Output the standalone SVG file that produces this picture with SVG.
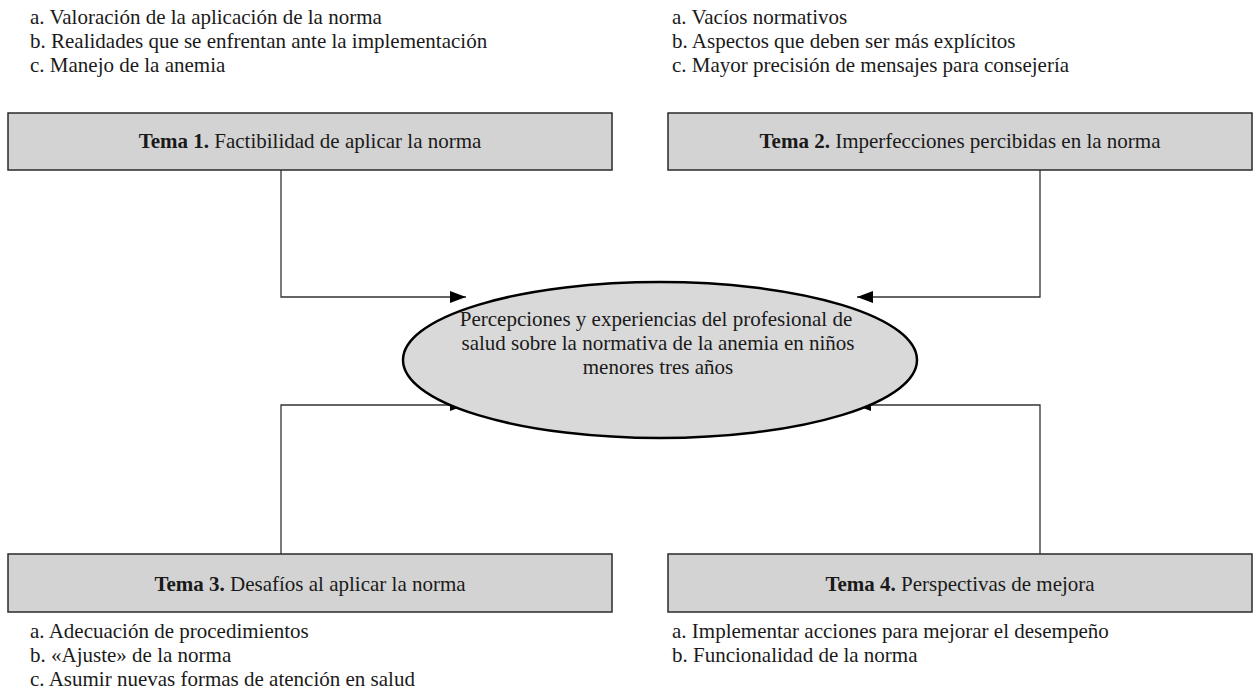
<svg xmlns="http://www.w3.org/2000/svg" width="1260" height="690" viewBox="0 0 1260 690">
<style>
text{font-family:"Liberation Serif","DejaVu Serif",serif;font-size:21px;fill:#1a1a1a}
.box{fill:#d3d3d3;stroke:#2a2a2a;stroke-width:1.5}
.c{text-anchor:middle}
.conn{fill:none;stroke:#333;stroke-width:1.3}
</style>
<defs>
<marker id="ah" markerWidth="16" markerHeight="12" refX="16" refY="6" orient="auto" markerUnits="userSpaceOnUse">
<path d="M0,0 L16,6 L0,12 Z" fill="#000"/>
</marker>
</defs>
<rect width="1260" height="690" fill="#fff"/>
<g id="connectors">
<path class="conn" d="M281,170 V297 H466" marker-end="url(#ah)"/>
<path class="conn" d="M1040,170 V297 H857" marker-end="url(#ah)"/>
<path class="conn" d="M281,554 V405 H466" marker-end="url(#ah)"/>
<path class="conn" d="M1040,554 V405 H855" marker-end="url(#ah)"/>
</g>
<g id="list1">
<text x="30" y="24">a. Valoración de la aplicación de la norma</text>
<text x="30" y="48">b. Realidades que se enfrentan ante la implementación</text>
<text x="30" y="72">c. Manejo de la anemia</text>
</g>
<g id="list2">
<text x="672" y="24">a. Vacíos normativos</text>
<text x="672" y="48">b. Aspectos que deben ser más explícitos</text>
<text x="672" y="72">c. Mayor precisión de mensajes para consejería</text>
</g>
<g id="tema1">
<rect class="box" x="8" y="113" width="604" height="57"/>
<text class="c" x="310" y="148"><tspan font-weight="bold">Tema 1.</tspan> Factibilidad de aplicar la norma</text>
</g>
<g id="tema2">
<rect class="box" x="668" y="113" width="584" height="57"/>
<text class="c" x="960" y="148"><tspan font-weight="bold">Tema 2.</tspan> Imperfecciones percibidas en la norma</text>
</g>
<g id="center">
<ellipse cx="660" cy="360" rx="257" ry="78" fill="#d9d9d9" stroke="#000" stroke-width="2.5"/>
<text class="c" x="656" y="326">Percepciones y experiencias del profesional de</text>
<text class="c" x="658" y="350">salud sobre la normativa de la anemia en niños</text>
<text class="c" x="658" y="374">menores tres años</text>
</g>
<g id="tema3">
<rect class="box" x="8" y="554" width="604" height="58"/>
<text class="c" x="310" y="591"><tspan font-weight="bold">Tema 3.</tspan> Desafíos al aplicar la norma</text>
</g>
<g id="tema4">
<rect class="box" x="668" y="554" width="584" height="58"/>
<text class="c" x="960" y="591"><tspan font-weight="bold">Tema 4.</tspan> Perspectivas de mejora</text>
</g>
<g id="list3">
<text x="30" y="638">a. Adecuación de procedimientos</text>
<text x="30" y="662">b. «Ajuste» de la norma</text>
<text x="30" y="686">c. Asumir nuevas formas de atención en salud</text>
</g>
<g id="list4">
<text x="672" y="638">a. Implementar acciones para mejorar el desempeño</text>
<text x="672" y="662">b. Funcionalidad de la norma</text>
</g>
</svg>
